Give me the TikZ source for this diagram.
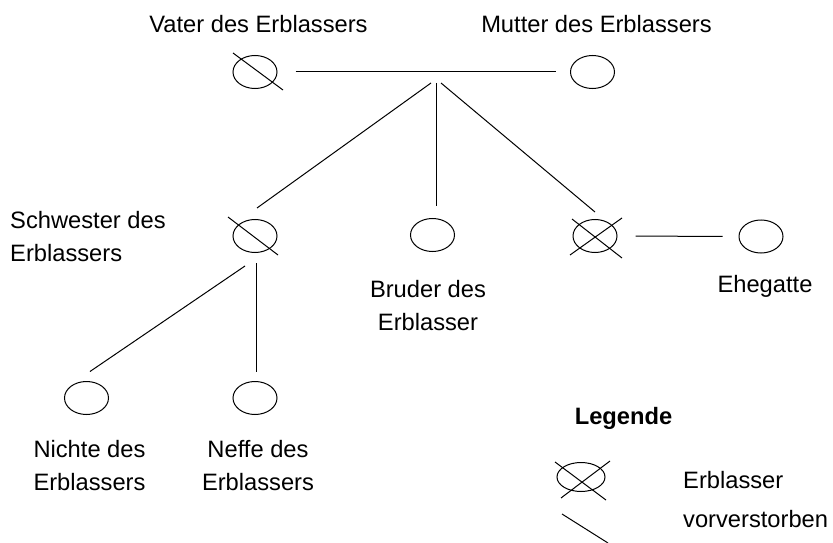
\documentclass[tikz,border=0pt]{standalone}
\usepackage{fontspec}
\setmainfont{Liberation Sans}
\usetikzlibrary{shapes.geometric,calc}
\tikzset{
  person/.style={draw, ellipse, minimum width=44pt, minimum height=33pt, inner sep=0pt, line width=1pt},
  lbl/.style={inner sep=0pt, font=\fontsize{23.7}{33.5}\selectfont, align=center},
  conn/.style={line width=1pt},
  deadmark/.style={line width=1pt}
}
\begin{document}
\begin{tikzpicture}[x=1pt,y=-1pt]
\useasboundingbox (0,0) rectangle (833,543);
% persons
\node[person] (v) at (255,72) {};
\node[person] (m) at (592.5,72) {};
\node[person] (s) at (255,236) {};
\node[person] (b) at (432.5,235) {};
\node[person] (e) at (595,236) {};
\node[person] (g) at (761,236.5) {};
\node[person] (n) at (86.5,398) {};
\node[person] (f) at (255,398) {};
\node[person, minimum width=48pt, minimum height=29pt] (le) at (581,477) {};
% deceased marks
\draw[deadmark] ($(v)+(-22,-19)$) -- ($(v)+(28,18)$);
\draw[deadmark] ($(s)+(-27,-19)$) -- ($(s)+(23,19)$);
\draw[deadmark] ($(e)+(-23,-17)$) -- ($(e)+(27,22)$);
\draw[deadmark] ($(e)+(27,-18)$) -- ($(e)+(-25,19)$);
\draw[deadmark] ($(le)+(-26,-15)$) -- ($(le)+(25,23)$);
\draw[deadmark] ($(le)+(29,-16)$) -- ($(le)+(-20,21)$);
\coordinate (ls1) at (562,514);
\coordinate (ls2) at (608,543);
\draw[deadmark] (ls1) -- (ls2);
% connectors
\draw[conn, shorten <=18pt, shorten >=14pt] (v) -- (m);
\draw[conn, shorten <=18pt, shorten >=16pt] (e) -- (g);
\coordinate (ja) at (431,83);
\coordinate (jb) at (436,83);
\coordinate (jc) at (441,83);
\draw[conn] (ja) -- ([xshift=2pt,yshift=11pt]s.north);
\draw[conn] (jb) -- ([xshift=3.5pt,yshift=12pt]b.north);
\draw[conn] (jc) -- ([yshift=7pt]e.north);
\coordinate (sa) at (245,266);
\coordinate (sb) at (256,263);
\draw[conn] (sa) -- ([xshift=3.5pt,yshift=9.5pt]n.north);
\draw[conn] (sb) -- ([xshift=1pt,yshift=9.5pt]f.north);
% labels
\node[lbl, anchor=north] (tv) at (258.5,15) {Vater des Erblassers};
\node[lbl, anchor=north] (tm) at (596.5,15) {Mutter des Erblassers};
\node[lbl, anchor=north west, align=left] (ts) at (10,211) {Schwester des\\Erblassers};
\node[lbl, anchor=north] (tb) at (428,280) {Bruder des\\Erblasser};
\node[lbl, anchor=north] (tg) at (765,275) {Ehegatte};
\node[lbl, anchor=north] (tn) at (89.5,440) {Nichte des\\Erblassers};
\node[lbl, anchor=north] (tf) at (258,440) {Neffe des\\Erblassers};
\node[lbl, anchor=north, font=\fontsize{23.7}{33.5}\selectfont\bfseries] (tl) at (623.5,407) {Legende};
\node[lbl, anchor=north west] (te) at (683,471) {Erblasser};
\node[lbl, anchor=north west] (tvv) at (683,510) {vorverstorben};
\end{tikzpicture}
\end{document}
